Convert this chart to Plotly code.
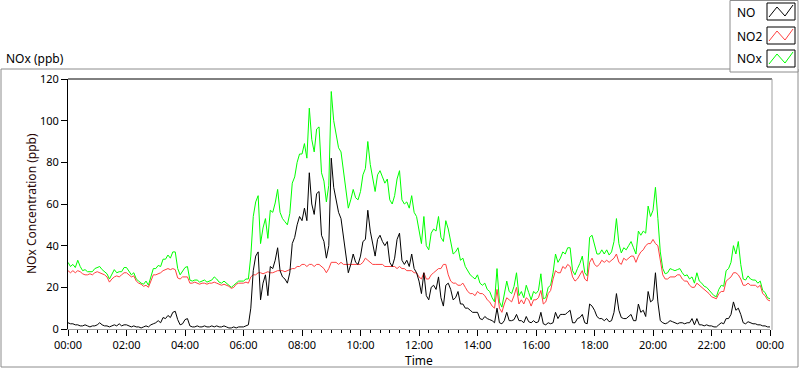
import pandas as pd
import plotly.graph_objects as go

# 5-minute samples, one row per hour (00:00 .. 23:55) plus the 24:00 end point
NO = [
    3, 2.5, 2.5, 2, 2, 1.5, 1.5, 2, 1.5, 1, 1.5, 1.5,
    2, 3, 2, 1.5, 1.5, 1, 1.5, 2, 1.5, 2.5, 1.5, 2,
    2, 1.5, 1, 1.5, 1, 1, 0.5, 1, 1.5, 1, 2, 2.5,
    3, 4, 3, 5.5, 5, 6.5, 5.5, 8, 8.5, 4.5, 2, 2.5,
    4.5, 5, 1.5, 1, 1, 1.5, 1, 1, 1.5, 1, 1, 1.5,
    1, 1.5, 1, 1, 1.5, 1, 0.5, 0.5, 1, 0.5, 1, 1,
    1, 1.5, 2, 10, 28, 35, 37, 14, 22, 26, 16, 30,
    29, 33, 39, 28, 25, 24, 22, 27, 41, 44, 50, 54,
    52, 58, 52, 75, 60, 55, 65, 66, 45, 42, 34, 40,
    82, 68, 62, 56, 53, 45, 35, 27, 31, 36, 32, 31,
    35, 42, 43, 57, 47, 41, 35, 43, 45, 42, 40, 42,
    32, 30, 34, 43, 46, 33, 31, 33, 30, 36, 29, 27,
    23, 17, 27, 16, 14, 20, 21, 19, 25, 15, 11, 21,
    22, 19, 14, 15, 18, 12, 12, 10, 10, 9, 8, 8,
    8, 5, 4.5, 6, 5, 4.5, 4, 3, 10, 3, 2.5, 4,
    8, 4, 4, 4.5, 7, 4, 4, 3, 6, 3.5, 3, 4,
    3, 3.5, 8, 2.5, 2, 3, 2.5, 3, 8, 5, 7, 7,
    7, 8, 9, 3, 3, 5, 5.5, 7, 3, 2.5, 12, 11,
    9, 6, 5, 5, 4, 5, 3.5, 4, 8, 17, 9, 5.5,
    5, 5, 6, 7, 4, 4, 12, 8, 9, 6, 18, 13,
    14, 27, 13, 4, 3, 2.5, 3, 4, 3.5, 3, 2.5, 3,
    3, 2.5, 3, 3, 5, 2, 5, 2, 2, 1.5, 2, 1.5,
    1.5, 1, 1, 2, 3, 2.5, 5, 5, 7, 13, 9, 10,
    7, 3, 2.5, 3.5, 3, 2.5, 2.5, 2, 2, 1.5, 1.5, 1,
    1,
]

NO2 = [
    28, 27, 28, 27, 28, 27.5, 26.5, 26, 26, 26.5, 26, 27,
    27.5, 27, 26.5, 26, 25, 22.5, 24, 25, 25.5, 25, 26, 27,
    27, 26, 25, 25.5, 23, 22, 21.5, 20.5, 21, 20, 23, 26,
    26, 26.5, 27, 28, 28.5, 29, 28.5, 29, 28.5, 24.5, 24, 25,
    25, 25, 22, 22, 22.5, 22, 21.5, 22, 22, 21.5, 22, 22,
    22.5, 22, 21.5, 21, 21.5, 21, 20.5, 19.5, 20, 21.5, 22, 22,
    22, 22.5, 22, 25, 26, 26, 27, 27, 26.5, 27, 27.5, 27,
    27, 27.5, 28, 28, 28, 27.5, 28, 28.5, 29, 29, 30, 30,
    31, 31, 30, 31, 31, 30, 31, 31, 30, 29, 27, 29,
    32, 32, 32, 31, 32, 31, 31, 31, 31, 31, 31, 31,
    31, 32, 34, 33, 32, 31, 31, 31, 31, 31, 30, 30,
    30, 30, 30, 29, 30, 29, 29, 28, 28, 28, 27, 27,
    25, 24, 27, 24, 24, 26, 27, 28, 29, 29, 31, 31,
    26, 23, 22, 22, 21, 21, 22, 20, 18, 17, 17, 16,
    18, 17, 17, 16, 14, 13, 11, 10, 19, 10, 8, 12,
    15, 14, 13, 16, 20, 12, 14, 12, 15, 14, 11, 14,
    14, 15, 18.5, 12, 13, 17, 18.5, 24, 28, 27, 27, 30,
    29, 31, 30, 25, 23, 24, 26, 28, 24, 23, 32, 34,
    31, 30, 31, 33, 32, 33, 32, 33, 34, 36, 32, 31,
    34, 33, 34, 35, 35, 32, 35, 37, 38, 40, 41, 41,
    43, 41, 40, 33, 26, 24, 24, 25, 25, 25, 26, 26,
    24, 23, 23, 21, 20, 20, 22, 21, 20, 19, 18, 17,
    15.5, 15, 14.5, 17, 18, 18, 23, 24, 25, 27, 27, 26,
    24, 21, 21, 22, 21, 21, 21, 20, 21, 17, 16, 14,
    13.5,
]

NOx = [
    32, 30, 31, 29.5, 33, 30, 28, 28.5, 27.5, 27.5, 27.5, 29,
    29.5, 30, 28.5, 27.5, 26.5, 24, 26, 28.5, 27, 27.5, 27.5, 29.5,
    29.5, 27.5, 26, 27, 24, 23, 22, 21.5, 23, 21, 25, 29,
    29, 30.5, 30, 33.5, 33.5, 35.5, 34, 37, 37, 29, 26, 27.5,
    29.5, 30, 23.5, 23, 23.5, 23.5, 22.5, 23, 23.5, 22.5, 23, 23.5,
    25, 24, 22.5, 22, 23, 22, 21, 20, 21, 22, 23, 23,
    23, 24, 24, 35, 54, 61, 64, 41, 48.5, 53, 43.5, 57,
    56, 60.5, 67, 56, 53, 51.5, 50, 55.5, 70, 73, 80, 84,
    84, 89, 82, 106, 91, 85, 96, 97, 75, 71, 61, 69,
    114, 100, 94, 87, 85, 76, 66, 58, 62, 67, 63, 62,
    66, 74, 77, 90, 79, 72, 66, 74, 76, 73, 70, 72,
    62, 60, 64, 72, 76, 62, 60, 61, 58, 64, 56, 54,
    48, 41, 54, 40, 38, 46, 48, 47, 54, 44, 42, 52,
    48, 42, 36, 37, 39, 33, 34, 30, 28, 26, 25, 24,
    26, 22, 21, 22, 19, 18, 15, 13, 29, 13, 10.5, 16,
    23, 18, 17, 20.5, 27, 16, 18, 15, 21, 17.5, 14, 18,
    17, 18.5, 26.5, 14.5, 15, 20, 21, 27, 36, 32, 34, 37,
    36, 39, 39, 28, 26, 29, 31.5, 35, 27, 25.5, 44, 45,
    40, 36, 36, 38, 36, 38, 35.5, 37, 42, 53, 41, 36.5,
    39, 38, 40, 42, 39, 36, 47, 45, 47, 46, 59, 54,
    57, 68, 53, 37, 29, 26.5, 27, 29, 28.5, 28, 28.5, 29,
    27, 25.5, 26, 24, 25, 22, 27, 23, 22, 20.5, 20, 18.5,
    17, 16, 15.5, 19, 21, 20.5, 28, 29, 32, 40, 36, 42,
    31, 24, 23.5, 25.5, 24, 23.5, 23.5, 22, 23, 18.5, 17.5, 15,
    14.5,
]

TIMES = pd.date_range("2000-01-01 00:00", periods=len(NO), freq="5min")
SERIES = [("NOx", NOx, "#00ff00"), ("NO2", NO2, "#ff4040"), ("NO", NO, "#000000")]
LEGEND_ITEMS = [("NO", "#000000"), ("NO2", "#ff4040"), ("NOx", "#00ff00")]
Y_TICKS = [0, 20, 40, 60, 80, 100, 120]

W, H = 800, 369
L, R, T, B = 68, 30, 79, 40
PW, PH = W - L - R, H - T - B


def px(x):
    return (x - L) / PW


def py(y):
    return (H - B - y) / PH


FONT = "Noto Sans"

fig = go.Figure()
for name, vals, col in SERIES:
    fig.add_trace(go.Scatter(x=TIMES, y=vals, mode="lines", name=name,
                             line=dict(color=col, width=1), hoverinfo="skip"))

shapes = []
# outer panel frame
shapes.append(dict(type="rect", xref="paper", yref="paper",
                   x0=px(1), x1=px(798), y0=py(69), y1=py(367),
                   line=dict(color="#8c8c8c", width=1), layer="below"))
# plot frame: top black, right gray
shapes.append(dict(type="line", xref="paper", yref="paper", x0=0, x1=px(772), y0=1, y1=1,
                   line=dict(color="#000000", width=1)))
shapes.append(dict(type="line", xref="paper", yref="paper", x0=px(772), x1=px(772), y0=py(330), y1=1,
                   line=dict(color="#a0a0a0", width=1)))
# legend panel
shapes.append(dict(type="rect", xref="paper", yref="paper",
                   x0=px(730), x1=px(798), y0=py(0.5), y1=py(72),
                   line=dict(color="#8c8c8c", width=1), fillcolor="#ffffff"))
annotations = []
box_tops = [3, 27, 50]
for (label, col), top in zip(LEGEND_ITEMS, box_tops):
    shapes.append(dict(type="rect", xref="paper", yref="paper",
                       x0=px(767), x1=px(795), y0=py(top), y1=py(top + 17),
                       line=dict(color="#000000", width=1), fillcolor="#ffffff"))
    pts = [(769, top + 14), (777, top + 4), (785, top + 13), (793, top + 2)]
    path = "M " + " L ".join(f"{px(a)},{py(b)}" for a, b in pts)
    shapes.append(dict(type="path", xref="paper", yref="paper", path=path,
                       line=dict(color=col, width=1)))
    annotations.append(dict(text=label, xref="paper", yref="paper", x=px(735), y=py(top + 9),
                            xanchor="left", yanchor="middle", showarrow=False,
                            font=dict(family=FONT, size=12, color="#000000")))

annotations.append(dict(text="NOx (ppb)", xref="paper", yref="paper", x=px(4), y=py(59),
                        xanchor="left", yanchor="middle", showarrow=False,
                        font=dict(family=FONT, size=12, color="#000000")))
annotations.append(dict(text="Time", xref="paper", yref="paper", x=px(419), y=py(360),
                        xanchor="center", yanchor="middle", showarrow=False,
                        font=dict(family=FONT, size=12, color="#000000")))
annotations.append(dict(text="NOx Concentration (ppb)", xref="paper", yref="paper",
                        x=px(31), y=py(204), textangle=-90,
                        xanchor="center", yanchor="middle", showarrow=False,
                        font=dict(family=FONT, size=12, color="#2a0808")))

fig.update_layout(
    width=W, height=H,
    margin=dict(l=L, r=R, t=T, b=B),
    paper_bgcolor="#ffffff", plot_bgcolor="#ffffff",
    showlegend=False,
    shapes=shapes, annotations=annotations,
    font=dict(family=FONT, size=11, color="#000000"),
    xaxis=dict(
        type="date",
        range=[TIMES[0], TIMES[-1]],
        dtick=2 * 3600 * 1000, tick0=TIMES[0], tickformat="%H:%M",
        ticks="outside", ticklen=6, tickcolor="#000000", tickwidth=1,
        minor=dict(dtick=20 * 60 * 1000, ticks="outside", ticklen=3,
                   tickcolor="#000000", showgrid=False),
        showgrid=False, zeroline=False,
        showline=True, linecolor="#a0a0a0", linewidth=1,
        tickfont=dict(family=FONT, size=11, color="#000000"),
    ),
    yaxis=dict(
        range=[0, 120], tickvals=Y_TICKS,
        ticks="outside", ticklen=6, tickcolor="#000000", tickwidth=1,
        showgrid=False, zeroline=False,
        showline=True, linecolor="#000000", linewidth=1,
        tickfont=dict(family=FONT, size=11, color="#000000"),
    ),
)

fig.write_html("out.html",
               config={"displayModeBar": False, "staticPlot": True},
               post_script="document.body.style.margin='0';document.body.style.overflow='hidden';")
